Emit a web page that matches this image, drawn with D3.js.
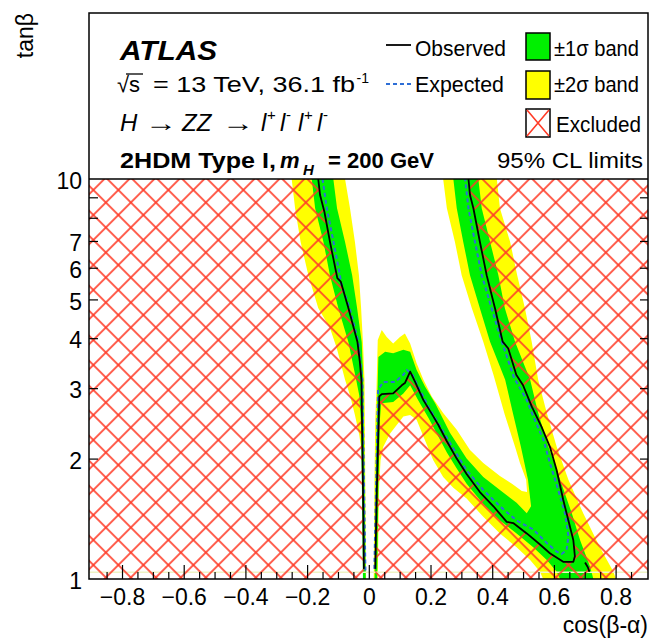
<!DOCTYPE html>
<html>
<head>
<meta charset="utf-8">
<script src="https://cdn.jsdelivr.net/npm/d3@7"></script>
<style>
  body { margin: 0; background: #fff; }
  svg { display: block; }
  text { font-family: 'Liberation Sans', Arial, Helvetica, sans-serif; fill: #000; }
  .tick text { font-size: 23px; }
</style>
</head>
<body>
<svg id="chart" width="651" height="641"></svg>
<script>
// ---- axis ticks and labels ----
const xMajorTicks = [-0.8, -0.6, -0.4, -0.2, 0, 0.2, 0.4, 0.6, 0.8];
const xTickLabels = ["\u22120.8", "\u22120.6", "\u22120.4", "\u22120.2", "0", "0.2", "0.4", "0.6", "0.8"];
const yTickMarks = [2, 3, 4, 5, 6, 7, 8, 9];
const yLabelValues = [1, 2, 3, 4, 5, 6, 7, 10];
const yTickLabels = ["1", "2", "3", "4", "5", "6", "7", "10"];

// ---- contours, points are [cos(beta-alpha), tan(beta)] ----
// observed limit, left branch (top to bottom)
const observedLeft = [
  [-0.164, 10], [-0.158, 9.12], [-0.144, 8.28], [-0.126, 6.97], [-0.102, 5.65], [-0.091, 5.54],
  [-0.066, 4.75], [-0.037, 3.92], [-0.029, 3.49], [-0.024, 3.15], [-0.021, 2.20], [-0.018, 1.50],
  [-0.016, 1.06]
];
// expected limit, left branch
const expectedLeft = [
  [-0.150, 10], [-0.136, 8.45], [-0.104, 6.33], [-0.088, 5.43], [-0.062, 4.75], [-0.034, 3.92],
  [-0.021, 3.15], [-0.016, 1.82], [-0.011, 1.05]
];
// +-2 sigma band, left branch: outer edge and inner edge (top to bottom)
const yellowLeftOuter = [
  [-0.250, 10], [-0.239, 8.45], [-0.221, 6.96], [-0.196, 5.75], [-0.164, 4.76], [-0.126, 4.24],
  [-0.104, 3.78], [-0.077, 3.15], [-0.061, 2.88], [-0.045, 2.57], [-0.031, 2.29], [-0.023, 2.08],
  [-0.019, 1.58], [-0.018, 1]
];
const yellowLeftInner = [
  [-0.077, 10], [-0.061, 8.45], [-0.045, 6.96], [-0.032, 5.75], [-0.025, 4.76], [-0.019, 3.91],
  [-0.014, 3.15], [-0.009, 1]
];
// +-1 sigma band, left branch
const greenLeftOuter = [
  [-0.185, 10], [-0.174, 8.45], [-0.147, 6.96], [-0.126, 5.75], [-0.099, 4.76], [-0.066, 3.91],
  [-0.041, 3.15], [-0.031, 2.88], [-0.025, 2.43], [-0.022, 1.58], [-0.019, 1]
];
const greenLeftInner = [
  [-0.115, 10], [-0.103, 8.45], [-0.077, 6.96], [-0.054, 5.75], [-0.038, 4.76], [-0.023, 3.91],
  [-0.018, 3.15], [-0.010, 1]
];

// observed limit, central hump + right branch (from the hump foot to the top)
const observedRight = [
  [0.021, 1.06], [0.026, 1.67], [0.034, 2.86], [0.042, 2.90], [0.079, 2.91], [0.107, 3.05],
  [0.117, 3.09], [0.134, 3.30], [0.150, 3.11], [0.177, 2.80], [0.209, 2.55], [0.225, 2.43],
  [0.253, 2.21], [0.285, 2.00], [0.317, 1.83], [0.360, 1.65], [0.404, 1.52], [0.447, 1.39],
  [0.468, 1.38], [0.512, 1.30], [0.555, 1.22], [0.587, 1.16], [0.630, 1.104], [0.663, 1.104],
  [0.668, 1.14], [0.663, 1.25], [0.647, 1.40], [0.630, 1.58], [0.609, 1.87], [0.587, 2.14],
  [0.560, 2.40], [0.528, 2.70], [0.500, 3.05], [0.478, 3.24], [0.452, 3.77], [0.434, 3.92],
  [0.409, 4.75], [0.382, 5.75], [0.360, 6.97], [0.339, 8.45], [0.328, 9.12], [0.323, 10]
];
const observedTail = [[0.701, 1.10], [0.710, 1.07], [0.715, 1.043]];
// expected limit, central hump + right branch
const expectedRight = [
  [0.018, 1.06], [0.024, 1.77], [0.030, 2.97], [0.047, 3.11], [0.085, 3.11], [0.112, 3.24],
  [0.123, 3.33], [0.139, 3.27], [0.160, 3.03], [0.193, 2.70], [0.225, 2.45], [0.274, 2.12],
  [0.317, 1.87], [0.371, 1.67], [0.425, 1.52], [0.479, 1.40], [0.533, 1.33], [0.577, 1.23],
  [0.609, 1.17], [0.625, 1.155], [0.641, 1.18], [0.647, 1.28], [0.636, 1.46], [0.614, 1.67],
  [0.587, 1.95], [0.566, 2.23], [0.533, 2.55], [0.512, 2.80], [0.471, 3.18], [0.431, 3.92],
  [0.398, 4.75], [0.366, 5.75], [0.344, 6.97], [0.323, 8.45], [0.312, 10]
];
// +-2 sigma band, hump + right branch: allowed-side edge and excluded-side edge
const yellowRightOuter = [
  [0.016, 1], [0.018, 1.67], [0.021, 2.50], [0.025, 3.01], [0.029, 3.96], [0.042, 4.19],
  [0.058, 4.03], [0.079, 3.88], [0.101, 4.03], [0.117, 4.11], [0.134, 3.88], [0.155, 3.46],
  [0.177, 3.15], [0.204, 2.86], [0.241, 2.60], [0.285, 2.36], [0.328, 2.10], [0.371, 1.95],
  [0.425, 1.81], [0.464, 1.73], [0.496, 1.66], [0.513, 1.65], [0.510, 1.77], [0.490, 1.95],
  [0.474, 2.14], [0.441, 2.57], [0.404, 3.24], [0.371, 3.92], [0.334, 4.75], [0.301, 5.75],
  [0.279, 6.97], [0.253, 8.45], [0.241, 10]
];
const yellowRightInner = [
  [0.029, 1], [0.033, 1.67], [0.038, 1.98], [0.047, 2.14], [0.069, 2.31], [0.112, 2.55],
  [0.134, 2.57], [0.155, 2.50], [0.177, 2.27], [0.209, 1.98], [0.241, 1.80], [0.274, 1.69],
  [0.317, 1.59], [0.371, 1.43], [0.425, 1.30], [0.479, 1.20], [0.523, 1.115], [0.555, 1.043],
  [0.565, 1], [0.801, 1], [0.793, 1.043], [0.749, 1.20], [0.695, 1.46], [0.647, 1.77],
  [0.609, 2.14], [0.577, 2.60], [0.549, 3.15], [0.528, 3.92], [0.506, 4.75], [0.481, 5.75],
  [0.458, 6.97], [0.425, 8.45], [0.415, 10]
];
// +-1 sigma band, hump + right branch
const greenRightOuter = [
  [0.019, 1], [0.022, 1.67], [0.026, 2.50], [0.031, 3.59], [0.053, 3.70], [0.079, 3.67],
  [0.112, 3.74], [0.134, 3.70], [0.155, 3.33], [0.182, 3.03], [0.215, 2.75], [0.263, 2.32],
  [0.317, 2.00], [0.371, 1.80], [0.425, 1.67], [0.479, 1.55], [0.512, 1.46], [0.526, 1.52],
  [0.516, 1.77], [0.493, 2.14], [0.467, 2.60], [0.442, 3.15], [0.393, 3.92], [0.360, 4.75],
  [0.328, 5.75], [0.306, 6.97], [0.285, 8.45], [0.274, 10]
];
const greenRightInner = [
  [0.027, 1], [0.031, 1.67], [0.036, 2.50], [0.040, 2.75], [0.079, 2.77], [0.112, 2.91],
  [0.134, 3.05], [0.160, 2.80], [0.193, 2.53], [0.231, 2.23], [0.253, 2.07], [0.285, 1.89],
  [0.317, 1.73], [0.371, 1.54], [0.425, 1.40], [0.479, 1.30], [0.533, 1.20], [0.577, 1.115],
  [0.609, 1.043], [0.620, 1], [0.728, 1], [0.717, 1.074], [0.685, 1.25], [0.658, 1.46],
  [0.620, 1.77], [0.582, 2.14], [0.549, 2.60], [0.523, 3.15], [0.474, 3.92], [0.441, 4.75],
  [0.420, 5.75], [0.393, 6.97], [0.366, 8.45], [0.355, 10]
];
const lowestRowTan = 1.04;

// ---- colours ----
const COL_GREEN = "#00f000", COL_YELLOW = "#ffff00", COL_HATCH = "#ff3c28",
      COL_EXP = "#2d6ed6", COL_OBS = "#000";

// ---- scales ----
const X_DOMAIN = [-0.907, 0.905];
const x = d3.scaleLinear().domain(X_DOMAIN).range([89, 648]);
const y = d3.scaleLog().domain([1, 10]).range([579, 179]);
const line = d3.line().x(d => x(d[0])).y(d => y(d[1]));
const band = (a, b) => a.concat(b.slice().reverse());

const svg = d3.select("#chart");
const defs = svg.append("defs");

// cross hatch for the excluded area
const s = 25 / Math.SQRT2;
const pat = defs.append("pattern").attr("id", "hatch")
  .attr("patternUnits", "userSpaceOnUse").attr("width", s).attr("height", s)
  .attr("patternTransform", "translate(118.3,552.5) rotate(45)");
pat.append("line").attr("x1", -1).attr("y1", s / 2).attr("x2", s + 1).attr("y2", s / 2)
  .attr("stroke", COL_HATCH).attr("stroke-width", 1.6);
pat.append("line").attr("x1", s / 2).attr("y1", -1).attr("x2", s / 2).attr("y2", s + 1)
  .attr("stroke", COL_HATCH).attr("stroke-width", 1.6);

defs.append("clipPath").attr("id", "plotClip").append("rect")
  .attr("x", 89).attr("y", 179).attr("width", 559).attr("height", 400);

const plot = svg.append("g").attr("clip-path", "url(#plotClip)");

// bands
plot.append("path").attr("d", line(band(yellowLeftOuter, yellowLeftInner)) + "Z").attr("fill", COL_YELLOW);
plot.append("path").attr("d", line(band(yellowRightOuter, yellowRightInner)) + "Z").attr("fill", COL_YELLOW);
plot.append("path").attr("d", line(band(greenLeftOuter, greenLeftInner)) + "Z").attr("fill", COL_GREEN);
plot.append("path").attr("d", line(band(greenRightOuter, greenRightInner)) + "Z").attr("fill", COL_GREEN);

// lowest grid row
plot.append("line").attr("x1", 89).attr("x2", 648)
  .attr("y1", y(lowestRowTan)).attr("y2", y(lowestRowTan))
  .attr("stroke", "#eef4c6").attr("stroke-width", 1.6);

// excluded regions
const lastL = observedLeft[observedLeft.length - 1];
const hatchLeft = [[X_DOMAIN[0], 1], [X_DOMAIN[0], 10]].concat(observedLeft, [[lastL[0], 1]]);
const firstR = observedRight[0];
const hatchRight = observedRight.concat([[X_DOMAIN[1], 10], [X_DOMAIN[1], 1], [firstR[0], 1]]);
plot.append("path").attr("d", line(hatchLeft) + "Z").attr("fill", "url(#hatch)");
plot.append("path").attr("d", line(hatchRight) + "Z").attr("fill", "url(#hatch)");

// expected and observed limits
[expectedLeft, expectedRight].forEach(d => plot.append("path").attr("d", line(d))
  .attr("fill", "none").attr("stroke", COL_EXP).attr("stroke-width", 2).attr("stroke-dasharray", "4,3"));
[observedLeft, observedRight, observedTail].forEach(d => plot.append("path").attr("d", line(d))
  .attr("fill", "none").attr("stroke", COL_OBS).attr("stroke-width", 1.8).attr("stroke-linejoin", "round"));

// ---- axes ----
const xMinorTicks = d3.range(-17, 18).filter(i => i % 4 !== 0).map(i => i * 0.05);
const gxMinor = svg.append("g").attr("transform", "translate(0,579)")
  .call(d3.axisBottom(x).tickValues(xMinorTicks).tickSize(-7).tickFormat(""));
const gx = svg.append("g").attr("transform", "translate(0,579)")
  .call(d3.axisBottom(x).tickValues(xMajorTicks).tickSize(-14).tickPadding(10)
    .tickFormat((d, i) => xTickLabels[i]));
const gyTicks = svg.append("g").attr("transform", "translate(89,0)")
  .call(d3.axisLeft(y).tickValues(yTickMarks).tickSize(-9).tickFormat(""));
const gyLabels = svg.append("g").attr("transform", "translate(89,0)")
  .call(d3.axisLeft(y).tickValues(yLabelValues).tickSize(0).tickPadding(7)
    .tickFormat((d, i) => yTickLabels[i]));
const gyRight = svg.append("g").attr("transform", "translate(648,0)")
  .call(d3.axisRight(y).tickValues(yTickMarks).tickSize(-8).tickFormat(""));
[gxMinor, gx, gyTicks, gyLabels, gyRight].forEach(g => {
  g.select(".domain").remove();
  g.attr("font-size", null).attr("font-family", null);
  g.selectAll(".tick line").attr("stroke", "#000").attr("stroke-width", 1.2);
});
gyLabels.selectAll("text").attr("dy", "0.42em");

// frame
svg.append("rect").attr("x", 89).attr("y", 13).attr("width", 559).attr("height", 566)
  .attr("fill", "none").attr("stroke", "#000").attr("stroke-width", 1.5);
svg.append("line").attr("x1", 89).attr("x2", 648).attr("y1", 179).attr("y2", 179)
  .attr("stroke", "#000").attr("stroke-width", 1.5);

// axis titles
svg.append("text").attr("transform", "translate(33,13) rotate(-90)")
  .attr("text-anchor", "end").attr("font-size", 23).text("tan\u03b2");
svg.append("text").attr("x", 648).attr("y", 633).attr("text-anchor", "end")
  .attr("font-size", 23).text("cos(\u03b2-\u03b1)");

// ---- labels ----
function label(txt, xp, yp, size, opts = {}) {
  const t = svg.append("text").attr("x", xp).attr("y", yp).attr("font-size", size).text(txt);
  if (opts.weight) t.attr("font-weight", opts.weight);
  if (opts.italic) t.attr("font-style", "italic");
  if (opts.len) t.attr("textLength", opts.len).attr("lengthAdjust", "spacingAndGlyphs");
  return t;
}
label("ATLAS", 120, 59.5, 28, { weight: "bold", italic: true, len: 97 });

label("\u221a", 117, 91.7, 22);
label("s", 129, 91.7, 22);
svg.append("line").attr("x1", 126).attr("x2", 143).attr("y1", 74).attr("y2", 74)
  .attr("stroke", "#000").attr("stroke-width", 1.3);
label("= 13 TeV, 36.1 fb", 153, 91.7, 22, { len: 202 });
label("-1", 356.5, 83, 14);

label("H", 120, 131, 24, { italic: true });
label("\u2192", 145, 131, 24, { len: 32 });
label("ZZ", 182, 131, 24, { italic: true });
label("\u2192", 222, 131, 24, { len: 32 });
const leptons = [["l", 261, 0], ["+", 267, 1], ["l", 280, 0], ["-", 286, 1],
                 ["l", 298, 0], ["+", 304, 1], ["l", 317, 0], ["-", 323, 1]];
leptons.forEach(([c, xp, sup]) => sup
  ? label(c, xp, 120, 15)
  : label(c, xp, 131, 24, { italic: true }));

label("2HDM Type I,", 120, 167.7, 22, { weight: "bold", len: 156 });
label("m", 280, 167.7, 22, { weight: "bold", italic: true });
label("H", 303, 175, 15, { weight: "bold", italic: true });
label("= 200 GeV", 328, 167.7, 22, { weight: "bold", len: 106 });
label("95% CL limits", 497, 168, 22, { len: 146 });

// ---- legend ----
svg.append("line").attr("x1", 386).attr("x2", 411).attr("y1", 45).attr("y2", 45)
  .attr("stroke", COL_OBS).attr("stroke-width", 1.8);
label("Observed", 415, 56, 22, { len: 91 });
svg.append("line").attr("x1", 386).attr("x2", 411).attr("y1", 84).attr("y2", 84)
  .attr("stroke", COL_EXP).attr("stroke-width", 2).attr("stroke-dasharray", "4,3");
label("Expected", 415, 92, 22, { len: 89 });

svg.append("rect").attr("x", 526).attr("y", 33).attr("width", 24).attr("height", 27)
  .attr("fill", COL_GREEN).attr("stroke", "#000").attr("stroke-width", 1.5);
label("\u00b11\u03c3 band", 554, 56, 22, { len: 85 });
svg.append("rect").attr("x", 526).attr("y", 71).attr("width", 24).attr("height", 28)
  .attr("fill", COL_YELLOW).attr("stroke", "#000").attr("stroke-width", 1.5);
label("\u00b12\u03c3 band", 554, 92, 22, { len: 85 });
const ex = svg.append("g");
ex.append("rect").attr("x", 526).attr("y", 109).attr("width", 24).attr("height", 28)
  .attr("fill", "#fff").attr("stroke", "#000").attr("stroke-width", 1.5);
ex.append("path").attr("d", "M527,110L549,136M549,110L527,136")
  .attr("stroke", COL_HATCH).attr("stroke-width", 1.6);
label("Excluded", 556, 131.5, 22, { len: 85 });
</script>
</body>
</html>
